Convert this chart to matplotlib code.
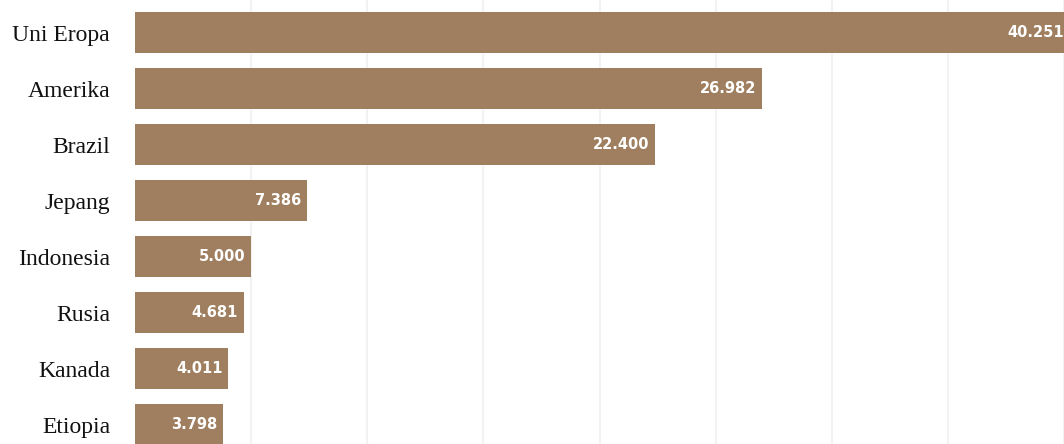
import matplotlib
matplotlib.use("Agg")
import matplotlib.pyplot as plt

countries = ["Uni Eropa", "Amerika", "Brazil", "Jepang", "Indonesia", "Rusia", "Kanada", "Etiopia"]
values = [40251, 26982, 22400, 7386, 5000, 4681, 4011, 3798]
value_labels = ["40.251", "26.982", "22.400", "7.386", "5.000", "4.681", "4.011", "3.798"]

bar_color = "#9F7F5F"

fig = plt.figure(figsize=(10.64, 4.44), dpi=100)
ax = fig.add_axes([135 / 1064, 0.0, 1 - 135 / 1064, 1.0])

ypos = list(range(len(countries)))
ax.barh(ypos, values, height=0.73, color=bar_color, zorder=2)

for y, v, lab in zip(ypos, values, value_labels):
    ax.annotate(lab, xy=(v, y), xytext=(-4, 0), textcoords="offset points",
                ha="right", va="center", color="white", fontsize=10.5,
                fontweight="bold", family="DejaVu Sans", zorder=3,
                annotation_clip=False)

ax.set_xlim(0, 39974)
ax.set_ylim(7.34, -0.58)
ax.set_xticks(range(5000, 40001, 5000))
ax.xaxis.grid(True, color="#F2F2F2", linewidth=1.5, zorder=0)
ax.set_axisbelow(True)
ax.tick_params(axis="x", length=0, labelbottom=False)
ax.tick_params(axis="y", length=0, pad=18)
ax.set_yticks(ypos)
ax.set_yticklabels(countries, family="Liberation Serif", fontsize=17, color="#111111")
for s in ax.spines.values():
    s.set_visible(False)

fig.savefig("out.png", dpi=100)
